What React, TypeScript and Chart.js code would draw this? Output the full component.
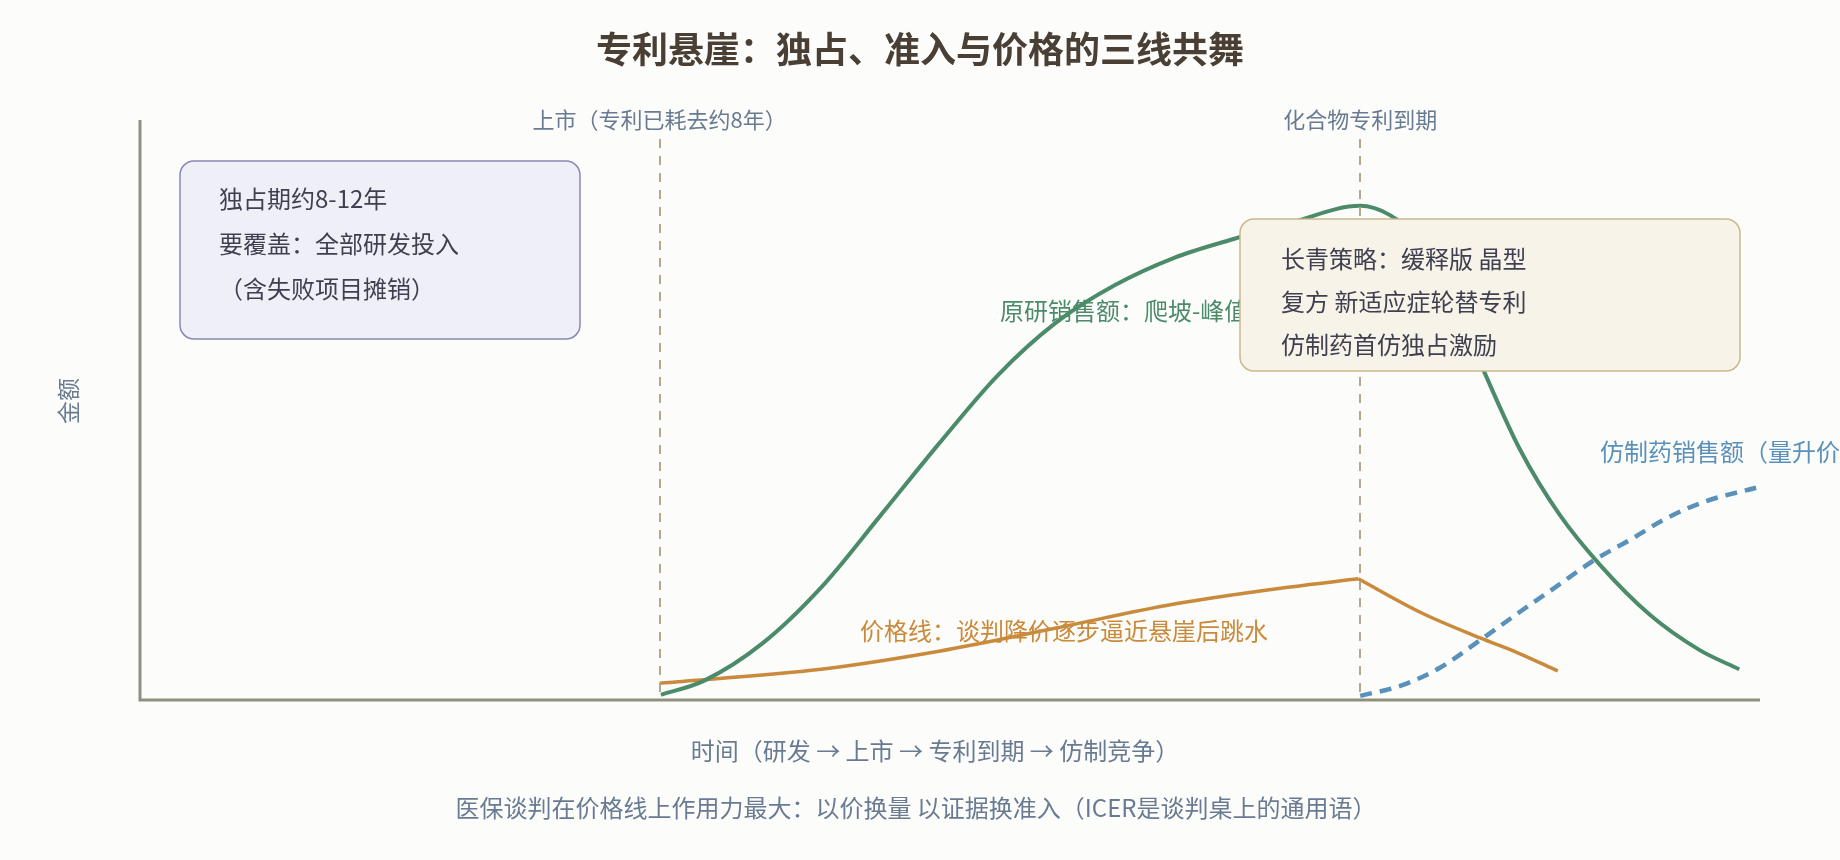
import { useEffect, useRef } from 'react';
import { Chart, registerables } from 'chart.js';

Chart.register(...registerables);

// ---- data (x: years since start of R&D, y: relative amount 0-100) ----
const brandYears = [8.04, 8.7, 9.61, 10.52, 11.42, 12.33, 13.23, 14.14, 15.04, 15.95, 16.85, 17.76, 18.83, 19.29, 19.75, 20.22, 20.74, 21.3, 21.91, 22.53, 23.3, 24.07, 24.68];
const brandSales = [0.9, 3.3, 9.8, 19.5, 31.7, 44.2, 55.9, 65.1, 71.5, 76.2, 79.4, 82.3, 85.2, 83.6, 79.3, 70.7, 56.7, 43.1, 31.9, 23.3, 14.7, 8.6, 5.3];

// price line: negotiated rise until the cliff, then the drop
const priceRiseYears = [8.02, 10.51, 12.33, 14.14, 15.94, 17.76, 18.8];
const priceRiseLevel = [2.9, 5.3, 8.4, 12.4, 16.5, 19.5, 20.9];
const priceDropYears = [18.8, 19.78, 20.68, 21.27, 21.88];
const priceDropLevel = [20.9, 15.0, 10.7, 8.1, 5.0];

const genericYears = [18.83, 19.49, 20.08, 20.68, 21.27, 21.85, 22.44, 23.04, 23.5, 24.12, 24.94];
const genericSales = [0.7, 2.6, 5.7, 10.3, 15.0, 19.5, 24.1, 27.9, 31.0, 34.1, 36.6];

const launchYear = 8.02;
const expiryYear = 18.83;

const titleText = '专利悬崖：独占、准入与价格的三线共舞';
const launchLabel = '上市（专利已耗去约8年）';
const expiryLabel = '化合物专利到期';
const yTitle = '金额';
const xTitle = '时间（研发 → 上市 → 专利到期 → 仿制竞争）';
const footerText = '医保谈判在价格线上作用力最大：以价换量 以证据换准入（ICER是谈判桌上的通用语）';
const brandLabel = '原研销售额：爬坡-峰值-悬崖';
const priceLabel = '价格线：谈判降价逐步逼近悬崖后跳水';
const genericLabel = '仿制药销售额（量升价跌）';
const leftBoxLines = ['独占期约8-12年', '要覆盖：全部研发投入', '（含失败项目摊销）'];
const rightBoxLines = ['长青策略：缓释版 晶型', '复方 新适应症轮替专利', '仿制药首仿独占激励'];

const FONT = '"Noto Sans CJK SC", "Noto Sans", sans-serif';
const BG = '#fcfcfa';
const GREEN = '#4b8b69';
const ORANGE = '#c98a3b';
const BLUE = '#5a91bb';
const MUTED = '#687b92';
const AXIS = '#8f8f7e';
const GUIDE = '#b3a88f';

const zip = (xs: number[], ys: number[]) => xs.map((x, i) => ({ x, y: ys[i] }));

function rr(ctx: CanvasRenderingContext2D, x: number, y: number, w: number, h: number, r: number) {
  ctx.beginPath();
  ctx.moveTo(x + r, y);
  ctx.lineTo(x + w - r, y);
  ctx.arcTo(x + w, y, x + w, y + r, r);
  ctx.lineTo(x + w, y + h - r);
  ctx.arcTo(x + w, y + h, x + w - r, y + h, r);
  ctx.lineTo(x + r, y + h);
  ctx.arcTo(x, y + h, x, y + h - r, r);
  ctx.lineTo(x, y + r);
  ctx.arcTo(x, y, x + r, y, r);
  ctx.closePath();
}

const decor = {
  id: 'decor',
  beforeDraw(chart: any) {
    const ctx = chart.ctx as CanvasRenderingContext2D;
    ctx.save();
    ctx.fillStyle = BG;
    ctx.fillRect(0, 0, chart.width, chart.height);
    ctx.restore();
  },
  beforeDatasetsDraw(chart: any) {
    const ctx = chart.ctx as CanvasRenderingContext2D;
    ctx.save();
    ctx.textBaseline = 'middle';
    ctx.textAlign = 'left';
    ctx.font = `24px ${FONT}`;
    ctx.fillStyle = GREEN;
    ctx.fillText(brandLabel, 1000, 311);
    ctx.fillStyle = ORANGE;
    ctx.textAlign = 'center';
    ctx.fillText(priceLabel, 1064, 631);
    ctx.fillStyle = BLUE;
    ctx.textAlign = 'left';
    ctx.fillText(genericLabel, 1600, 452);
    ctx.restore();
  },
  afterDatasetsDraw(chart: any) {
    const ctx = chart.ctx as CanvasRenderingContext2D;
    const xs = chart.scales.x;
    const area = chart.chartArea;
    ctx.save();
    // guide lines
    ctx.strokeStyle = GUIDE;
    ctx.lineWidth = 2;
    ctx.setLineDash([9, 8]);
    for (const yr of [launchYear, expiryYear]) {
      const px = Math.round(xs.getPixelForValue(yr));
      ctx.beginPath();
      ctx.moveTo(px, 139);
      ctx.lineTo(px, area.bottom);
      ctx.stroke();
    }
    ctx.setLineDash([]);
    // axes
    ctx.strokeStyle = AXIS;
    ctx.lineWidth = 3;
    ctx.beginPath();
    ctx.moveTo(area.left, area.top);
    ctx.lineTo(area.left, area.bottom);
    ctx.lineTo(area.right, area.bottom);
    ctx.stroke();

    // left box
    rr(ctx, 180, 161, 400, 178, 14);
    ctx.fillStyle = '#eff0f7';
    ctx.fill();
    ctx.strokeStyle = '#8a87b5';
    ctx.lineWidth = 1.5;
    ctx.stroke();
    // right box
    rr(ctx, 1240, 219, 500, 152, 14);
    ctx.fillStyle = '#f7f3e8';
    ctx.fill();
    ctx.strokeStyle = '#c9b98b';
    ctx.lineWidth = 1.5;
    ctx.stroke();

    ctx.fillStyle = '#3f3f50';
    ctx.font = `24px ${FONT}`;
    ctx.textAlign = 'left';
    ctx.textBaseline = 'middle';
    leftBoxLines.forEach((t, i) => ctx.fillText(t, 219, 199 + i * 45));
    rightBoxLines.forEach((t, i) => ctx.fillText(t, 1281, 259 + i * 43));

    // top labels
    ctx.fillStyle = MUTED;
    ctx.textAlign = 'center';
    ctx.font = `22px ${FONT}`;
    ctx.fillText(launchLabel, xs.getPixelForValue(launchYear), 120);
    ctx.fillText(expiryLabel, xs.getPixelForValue(expiryYear), 120);

    // axis titles
    ctx.font = `24px ${FONT}`;
    ctx.fillText(xTitle, 935, 751);
    ctx.save();
    ctx.translate(68, 401);
    ctx.rotate(-Math.PI / 2);
    ctx.font = `23px ${FONT}`;
    ctx.fillText(yTitle, 0, 0);
    ctx.restore();

    // footer
    ctx.font = `24px ${FONT}`;
    ctx.fillText(footerText, 916, 808);

    // title
    ctx.fillStyle = '#4a3f35';
    ctx.font = `bold 36px ${FONT}`;
    ctx.fillText(titleText, 920, 49);
    ctx.restore();
  },
};

export default function App() {
  const ref = useRef<HTMLCanvasElement | null>(null);
  useEffect(() => {
    if (!ref.current) return;
    const common = { pointRadius: 0, cubicInterpolationMode: 'monotone' as const, fill: false };
    const chart = new Chart(ref.current, {
      type: 'line',
      data: {
        datasets: [
          { label: '原研销售额', data: zip(brandYears, brandSales), borderColor: GREEN, borderWidth: 4, ...common },
          { label: '价格线', data: zip(priceRiseYears, priceRiseLevel), borderColor: ORANGE, borderWidth: 3.5, ...common },
          { label: '价格线（跳水）', data: zip(priceDropYears, priceDropLevel), borderColor: ORANGE, borderWidth: 3.5, ...common },
          {
            label: '仿制药销售额',
            data: zip(genericYears, genericSales),
            borderColor: BLUE,
            borderWidth: 4.5,
            borderDash: [12, 8],
            ...common,
          },
        ],
      },
      options: {
        responsive: true,
        maintainAspectRatio: false,
        animation: false,
        layout: { padding: { left: 140, right: 80, top: 120, bottom: 160 } },
        scales: {
          x: { type: 'linear', min: 0, max: 25, display: false },
          y: { type: 'linear', min: 0, max: 100, display: false },
        },
        plugins: {
          legend: { display: false },
          tooltip: { enabled: false },
          title: { display: false },
        },
      },
      plugins: [decor],
    });
    return () => chart.destroy();
  }, []);
  return (
    <div style={{ position: 'fixed', left: 0, top: 0, width: 1840, height: 860, background: BG }}>
      <canvas ref={ref} />
    </div>
  );
}
